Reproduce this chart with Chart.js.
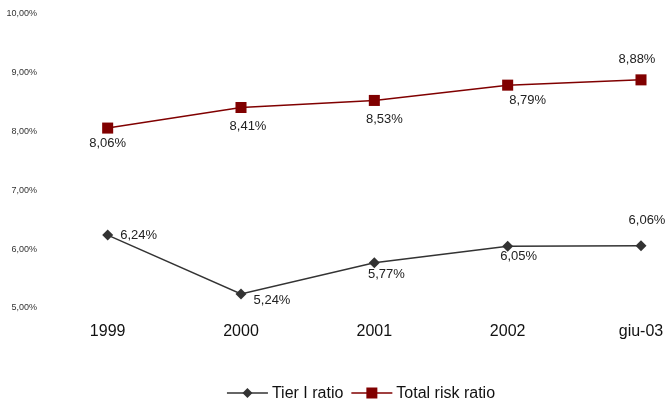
<!DOCTYPE html>
<html>
<head>
<meta charset="utf-8">
<script src="https://cdn.jsdelivr.net/npm/chart.js@4"></script>
<style>
  html, body { margin: 0; padding: 0; background: #fff; }
  #wrap { width: 669px; height: 407px; }
</style>
</head>
<body>
<div id="wrap"><canvas id="myChart1" width="669" height="407"></canvas></div>
<script>
const years = ['1999', '2000', '2001', '2002', 'giu-03'];
const tierOne = [6.24, 5.24, 5.77, 6.05, 6.06];
const totalRisk = [8.06, 8.41, 8.53, 8.79, 8.88];
const yTicks = [5, 6, 7, 8, 9, 10];

function pct(v, dec) {
    return v.toFixed(dec).replace('.', ',') + '%';
}

// value labels, offset from each point (dx, dy)
const labelShift = {
    0: [[31, 0], [31, 7], [12, 12], [11, 10], [6, -25]],
    1: [[0, 15], [7, 19], [10, 19], [20, 15], [-4, -20]]
};

const valueLabels = {
    id: 'valueLabels',
    afterDatasetsDraw(chart) {
        const ctx = chart.ctx;
        ctx.save();
        ctx.font = '13px Arial, "Liberation Sans", sans-serif';
        ctx.fillStyle = '#222';
        ctx.textAlign = 'center';
        ctx.textBaseline = 'middle';
        chart.data.datasets.forEach((ds, i) => {
            chart.getDatasetMeta(i).data.forEach((pt, j) => {
                const s = labelShift[i][j];
                ctx.fillText(pct(ds.data[j].y, 2), pt.x + s[0], pt.y + s[1]);
            });
        });
        ctx.restore();
    }
};

// legend with line + marker swatches under the plot
const lineLegend = {
    id: 'lineLegend',
    afterDraw(chart) {
        const ctx = chart.ctx;
        const y = 393;
        ctx.save();
        ctx.font = '16px Arial, "Liberation Sans", sans-serif';
        ctx.textBaseline = 'middle';
        const items = chart.data.datasets.map(ds => ({
            ds: ds,
            w: 41 + 4 + ctx.measureText(ds.label).width
        }));
        const gap = 8;
        let total = items.reduce((a, it) => a + it.w, 0) + gap * (items.length - 1);
        let x = 361 - total / 2;
        items.forEach(it => {
            const ds = it.ds;
            ctx.strokeStyle = ds.borderColor;
            ctx.lineWidth = 1.5;
            ctx.beginPath();
            ctx.moveTo(x, y);
            ctx.lineTo(x + 41, y);
            ctx.stroke();
            ctx.fillStyle = ds.pointBackgroundColor;
            ctx.beginPath();
            if (ds.pointStyle === 'rect') {
                ctx.rect(x + 20.5 - 5.5, y - 5.5, 11, 11);
            } else {
                ctx.moveTo(x + 20.5, y - 5);
                ctx.lineTo(x + 25.5, y);
                ctx.lineTo(x + 20.5, y + 5);
                ctx.lineTo(x + 15.5, y);
                ctx.closePath();
            }
            ctx.fill();
            ctx.fillStyle = '#111';
            ctx.fillText(ds.label, x + 45, y + 1);
            x += it.w + gap;
        });
        ctx.restore();
    }
};

function createChart() {
    const ctx = document.getElementById('myChart1');

    window.myChart = new Chart(ctx, {
        type: 'line',
        data: {
            labels: years,
            datasets: [{
                label: 'Tier I ratio',
                data: tierOne.map((v, i) => ({ x: i, y: v })),
                borderColor: '#333333',
                borderWidth: 1.5,
                pointStyle: 'rectRot',
                radius: 5.5,
                pointBackgroundColor: '#333333',
                pointBorderColor: '#333333',
                pointBorderWidth: 0
            }, {
                label: 'Total risk ratio',
                data: totalRisk.map((v, i) => ({ x: i, y: v })),
                borderColor: '#800000',
                borderWidth: 1.5,
                pointStyle: 'rect',
                radius: 7.8,
                pointBackgroundColor: '#800000',
                pointBorderColor: '#800000',
                pointBorderWidth: 0
            }]
        },
        options: {
            responsive: false,
            animation: false,
            layout: { autoPadding: false, padding: { top: 14, right: 0, bottom: 67, left: 0 } },
            plugins: {
                legend: { display: false },
                tooltip: { enabled: false }
            },
            scales: {
                x: {
                    type: 'linear',
                    min: -0.5,
                    max: 4.21,
                    afterBuildTicks: s => { s.ticks = years.map((_, i) => ({ value: i })); },
                    afterFit: s => { s.height = 32; },
                    // invisible tick marks push the labels down
                    grid: { display: false, drawTicks: true, tickLength: 14 },
                    border: { display: false },
                    ticks: {
                        padding: 0,
                        autoSkip: false,
                        maxRotation: 0,
                        color: '#111',
                        font: { family: 'Arial, "Liberation Sans", sans-serif', size: 16 },
                        callback: v => years[v]
                    }
                },
                y: {
                    min: 5,
                    max: 10,
                    afterBuildTicks: s => { s.ticks = yTicks.map(v => ({ value: v })); },
                    afterFit: s => { s.width = 41; },
                    grid: { display: false, drawTicks: false },
                    border: { display: false },
                    ticks: {
                        padding: 4,
                        color: '#333',
                        font: { family: 'Arial, "Liberation Sans", sans-serif', size: 9 },
                        callback: v => pct(v, 2)
                    }
                }
            }
        },
        plugins: [valueLabels, lineLegend]
    });
}

createChart();
</script>
</body>
</html>
